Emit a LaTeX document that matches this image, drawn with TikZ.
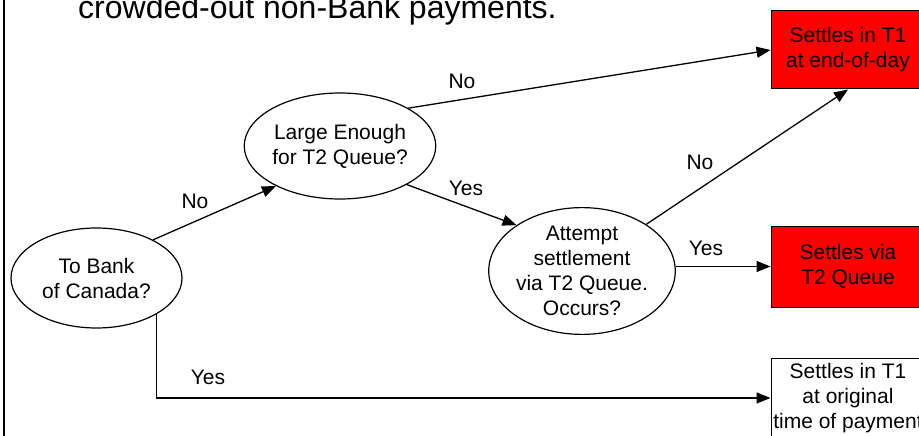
\documentclass[tikz,border=0pt]{standalone}
\usepackage{fontspec}
\setmainfont{Liberation Sans}
\usetikzlibrary{shapes.geometric,arrows.meta}
\begin{document}
\begin{tikzpicture}[x=1pt,y=-1pt,
  every node/.style={font=\fontsize{21}{25}\selectfont},
  decision/.style={ellipse,draw,line width=1.2pt,inner sep=0pt,align=center},
  outbox/.style={rectangle,draw,line width=1pt,minimum width=154pt,align=center,inner sep=0pt},
  redbox/.style={outbox,fill=red},
  arr/.style={line width=1.3pt,-{Triangle[length=14pt,width=11pt]}},
  lbl/.style={inner sep=0pt}
]
\useasboundingbox (0,0) rectangle (919,436);
\clip (0,0) rectangle (919,436);

\node[anchor=base west,inner sep=0pt,font=\fontsize{32}{38}\selectfont] (title) at (78,19) {crowded-out non-Bank payments.};
\draw[line width=2pt] (4,0) -- (4,436);

\node[decision,minimum width=171pt,minimum height=100pt] (bank) at (96.5,278) {To Bank\\of Canada?};
\node[decision,minimum width=184pt,minimum height=106pt] (large) at (340,146) {Large Enough\\for T2 Queue?};
\node[decision,minimum width=182pt,minimum height=114pt] (attempt) at (582,271) {Attempt\\settlement\\via T2 Queue.\\Occurs?};

\node[redbox,minimum height=78pt] (eod) at (848,50) {Settles in T1\\at end-of-day};
\node[redbox,minimum height=81pt] (via) at (848,266.5) {Settles via\\T2 Queue};
\node[outbox,minimum height=80pt] (orig) at (848,398) {Settles in T1\\at original\\time of payment};

\draw[arr] (bank.34) -- (large.212);
\draw[arr] (large.29) -- (eod.west);
\draw[arr] (large.-30) -- (attempt.145);
\draw[arr] (attempt.36) -- (eod.south);
\draw[arr] (attempt.east |- via.west) -- (via.west);
\draw[arr] (bank.-31) |- (orig.west);

\node[lbl] (l1) at (195,201) {No};
\node[lbl] (l2) at (462,81) {No};
\node[lbl] (l3) at (466,188) {Yes};
\node[lbl] (l4) at (700,162) {No};
\node[lbl] (l5) at (706,248) {Yes};
\node[lbl] (l6) at (208,377) {Yes};
\end{tikzpicture}
\end{document}
